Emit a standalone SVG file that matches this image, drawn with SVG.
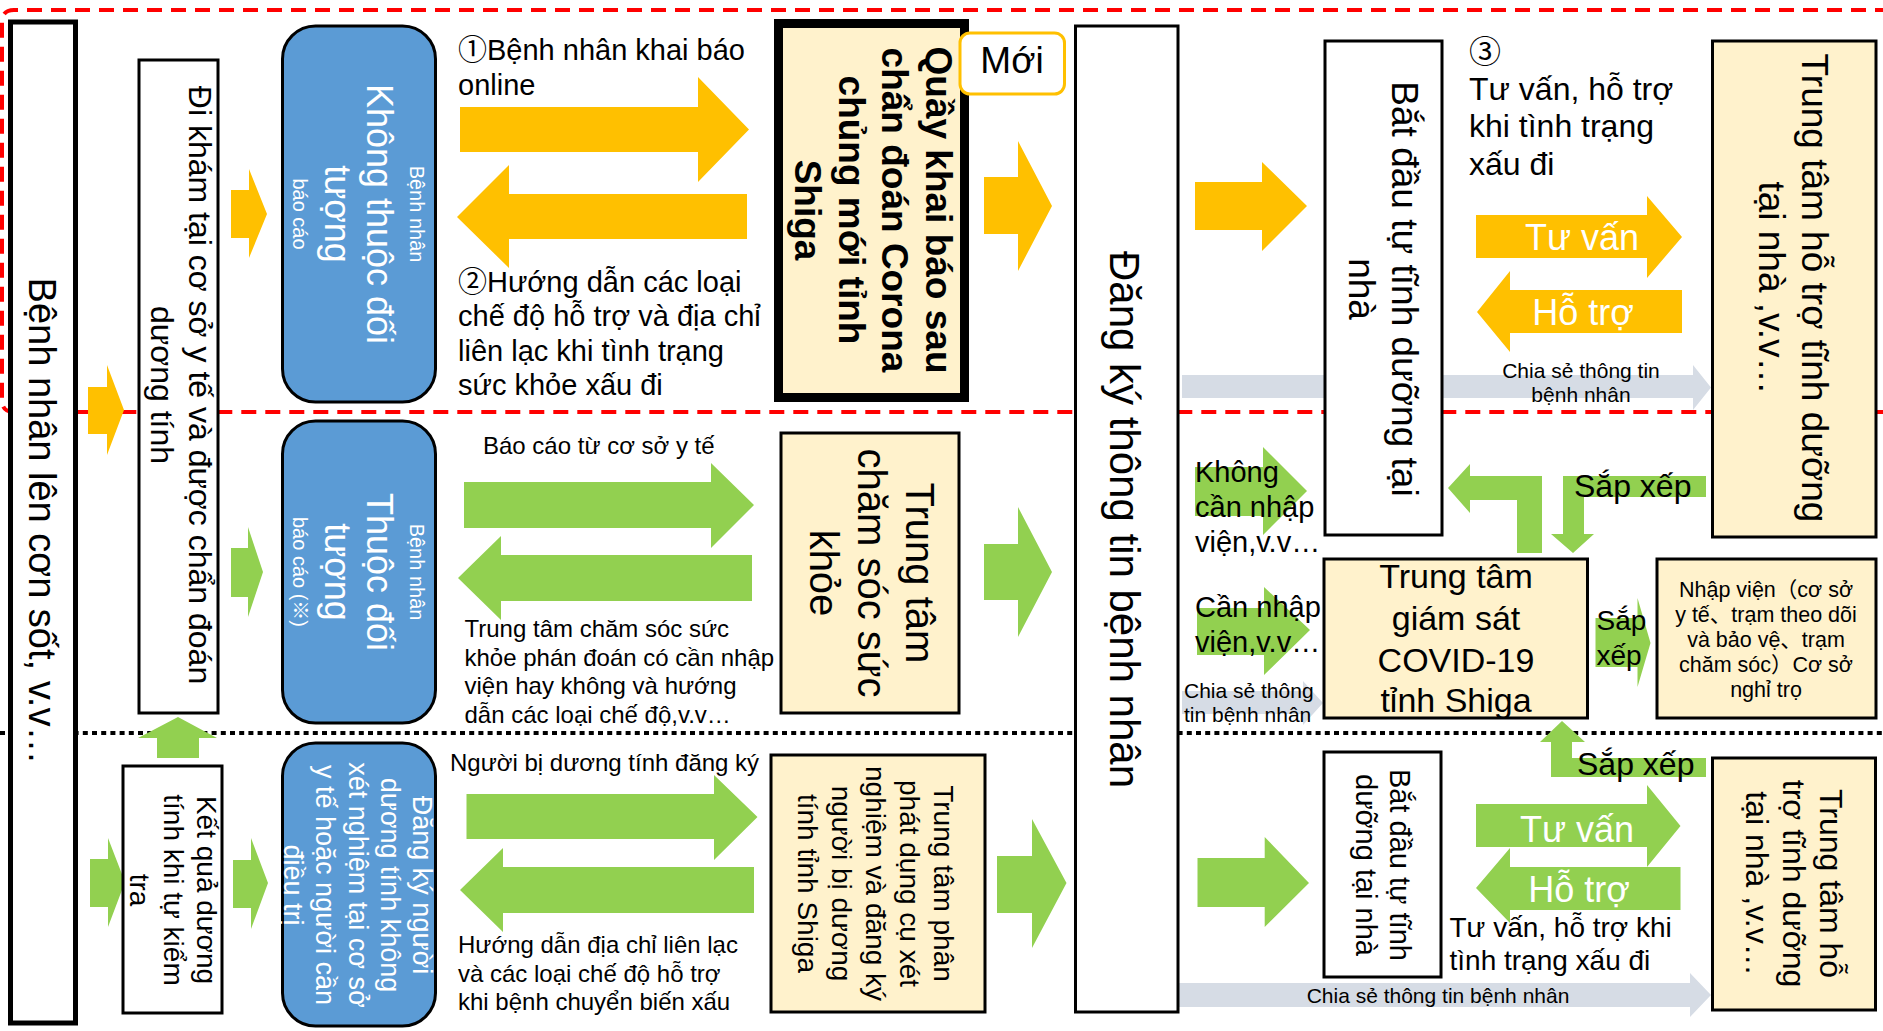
<svg xmlns="http://www.w3.org/2000/svg" width="1883" height="1031" viewBox="0 0 1883 1031">
<defs><style>
text{font-family:"Liberation Sans","Noto Sans CJK JP",sans-serif;fill:#000}
.bx{fill:#fff;stroke:#000;stroke-width:3}
.yb{fill:#FFF2CC;stroke:#000;stroke-width:3}
.bl{fill:#5B9BD5;stroke:#000;stroke-width:3}
.ya{fill:#FFC000}
.ga{fill:#92D050}
.gr{fill:#D6DCE5}
text.w{fill:#fff}
.c{text-anchor:middle}
.b{font-weight:bold}
</style></defs>
<rect width="1883" height="1031" fill="#fff"/>
<g id="dividers">
<path d="M1890,10 H14 Q2,10 2,22 V400 Q2,412 14,412 H1890" fill="none" stroke="#f00" stroke-width="4" stroke-dasharray="15 9"/>
<path d="M0,733 H1883" stroke="#000" stroke-width="4" stroke-dasharray="5 4.2"/>
</g>
<g id="connectors">
<polygon class="ya" points="231,190 249,190 249,169 267,214 249,258 249,238 231,238"/>
<polygon class="ya" points="88,387 107,387 107,365 124,410 107,455 107,434 88,434"/>
<polygon class="ya" points="460,107 698,107 698,77 749,129.5 698,182 698,152 460,152"/>
<polygon class="ya" points="457,217 509,165 509,194 747,194 747,239 509,239 509,268"/>
<polygon class="ya" points="984,177 1018,177 1018,141 1052,206 1018,271 1018,234 984,234"/>
<polygon class="ya" points="1195,182 1262,182 1262,162 1307,206 1262,251 1262,230 1195,230"/>
<polygon class="ya" points="1476,215 1647,215 1647,196 1682,237 1647,278 1647,258 1476,258"/>
<polygon class="ya" points="1477,312 1510,271 1510,290 1682,290 1682,333 1510,333 1510,352"/>
<polygon class="gr" points="1182,375 1693,375 1693,365 1711,387.5 1693,410 1693,398 1182,398"/>
<polygon class="gr" points="1182,691 1303,691 1303,681 1323,703 1303,725 1303,714 1182,714"/>
<polygon class="gr" points="1178,983 1690,983 1690,973 1711,995 1690,1017 1690,1007 1178,1007"/>
<polygon class="ga" points="231,548 248,548 248,527 263,572 248,617 248,597 231,597"/>
<polygon class="ga" points="178,717 217,738 199,738 199,758 157,758 157,738 138,738"/>
<polygon class="ga" points="90,859 108,859 108,838 125,882 108,927 108,907 90,907"/>
<polygon class="ga" points="233,860 251,860 251,838 268,883 251,929 251,908 233,908"/>
<polygon class="ga" points="464,482 711,482 711,463 754,505 711,548 711,528 464,528"/>
<polygon class="ga" points="458,578 501,536 501,555 752,555 752,601 501,601 501,620"/>
<polygon class="ga" points="984,544 1018,544 1018,507 1052,572 1018,637 1018,600 984,600"/>
<polygon class="ga" points="466.5,794 714,794 714,775 757.5,817 714,860 714,839 466.5,839"/>
<polygon class="ga" points="460,890 503,848 503,867 754,867 754,913 503,913 503,932"/>
<polygon class="ga" points="997,856 1032,856 1032,819 1066.5,883 1032,948 1032,913 997,913"/>
<polygon class="ga" points="1195,467 1263,467 1263,447 1307,491 1263,535 1263,516 1195,516"/>
<polygon class="ga" points="1197,608 1264,608 1264,587 1310,630 1264,675 1264,655 1197,655"/>
<polygon class="ga" points="1542,553 1542,476 1470,476 1470,464 1448,488 1470,513 1470,500 1517,500 1517,553"/>
<polygon class="ga" points="1706,476 1563,476 1563,534 1551,534 1573,553 1594,534 1584,534 1584,497 1706,497"/>
<polygon class="ga" points="1595.5,618 1637.5,618 1637.5,598 1650.5,643 1637.5,687 1637.5,667 1595.5,667"/>
<polygon class="ga" points="1706,758 1572,758 1572,742 1585,742 1562,721 1540,742 1551,742 1551,777 1706,777"/>
<polygon class="ga" points="1197.5,858 1264.7,858 1264.7,837 1309,883 1264.7,927 1264.7,907 1197.5,907"/>
<polygon class="ga" points="1476,804 1647,804 1647,785 1680.5,826 1647,867 1647,847 1476,847"/>
<polygon class="ga" points="1476,888 1510,848 1510,867 1680.5,867 1680.5,910 1510,910 1510,923"/>
<g font-size="29">
<text x="458" y="60">①Bệnh nhân khai báo</text>
<text x="458" y="95">online</text>
<text x="458" y="292">②Hướng dẫn các loại</text>
<text x="458" y="326">chế độ hỗ trợ và địa chỉ</text>
<text x="458" y="361">liên lạc khi tình trạng</text>
<text x="458" y="395">sức khỏe xấu đi</text>
</g>
<g font-size="32">
<text x="1469" y="63">③</text>
<text x="1469" y="100">Tư vấn, hỗ trợ</text>
<text x="1469" y="137">khi tình trạng</text>
<text x="1469" y="175">xấu đi</text>
</g>
<g font-size="36" class="c">
<text class="w" x="1582" y="250">Tư vấn</text>
<text class="w" x="1583" y="325">Hỗ trợ</text>
<text class="w" x="1577" y="842">Tư vấn</text>
<text class="w" x="1579" y="902">Hỗ trợ</text>
</g>
<g font-size="21" class="c">
<text x="1581" y="378">Chia sẻ thông tin</text>
<text x="1581" y="402">bệnh nhân</text>
<text x="1438" y="1003">Chia sẻ thông tin bệnh nhân</text>
</g>
<g font-size="21">
<text x="1184" y="698">Chia sẻ thông</text>
<text x="1184" y="722">tin bệnh nhân</text>
</g>
<g font-size="24">
<text x="483" y="454">Báo cáo từ cơ sở y tế</text>
<text x="464.5" y="637">Trung tâm chăm sóc sức</text>
<text x="464.5" y="666">khỏe phán đoán có cần nhập</text>
<text x="464.5" y="694">viện hay không và hướng</text>
<text x="464.5" y="723">dẫn các loại chế độ,v.v…</text>
<text x="450" y="771">Người bị dương tính đăng ký</text>
<text x="458" y="953">Hướng dẫn địa chỉ liên lạc</text>
<text x="458" y="982">và các loại chế độ hỗ trợ</text>
<text x="458" y="1010">khi bệnh chuyển biến xấu</text>
</g>
<g font-size="29">
<text x="1195" y="482">Không</text>
<text x="1195" y="517">cần nhập</text>
<text x="1195" y="552">viện,v.v…</text>
<text x="1195" y="617">Cần nhập</text>
<text x="1195" y="652">viện,v.v…</text>
</g>
<g font-size="32">
<text x="1574" y="497">Sắp xếp</text>
<text x="1577" y="775">Sắp xếp</text>
</g>
<g font-size="28">
<text x="1596.5" y="630">Sắp</text>
<text x="1596.5" y="665">xếp</text>
<text x="1449.5" y="937">Tư vấn, hỗ trợ khi</text>
<text x="1449.5" y="970">tình trạng xấu đi</text>
</g>
</g>
<g id="n-fever">
<rect x="10.5" y="22" width="65" height="1001" fill="#fff" stroke="#000" stroke-width="5"/>
<g transform="translate(43,521) rotate(90)"><text class="c" font-size="38" y="14">Bệnh nhân lên cơn sốt, v.v…</text></g>
</g>
<g id="n-clinic">
<rect class="bx" x="139" y="60" width="79" height="653"/>
<g transform="translate(178,385) rotate(90)" font-size="32"><text class="c" y="-11">Đi khám tại cơ sở y tế và được chẩn đoán</text><text class="c" y="27">dương tính</text></g>
</g>
<g id="n-selftest">
<rect class="bx" x="123" y="766" width="99" height="247"/>
<g transform="translate(172.5,890) rotate(90)" font-size="28"><text class="c" y="-24.5">Kết quả dương</text><text class="c" y="9">tính khi tự kiểm</text><text class="c" y="42.5">tra</text></g>
</g>
<g id="n-notreport">
<rect class="bl" x="282.5" y="26" width="153" height="376" rx="33"/>
<g transform="translate(359,214) rotate(90)"><text class="c w" font-size="20" y="-51">Bệnh nhân</text><text class="c w" font-size="36" y="-8">Không thuộc đối</text><text class="c w" font-size="36" y="34">tượng</text><text class="c w" font-size="20" y="66">báo cáo</text></g>
</g>
<g id="n-report">
<rect class="bl" x="282.5" y="421" width="153" height="302" rx="33"/>
<g transform="translate(359,572) rotate(90)"><text class="c w" font-size="20" y="-51">Bệnh nhân</text><text class="c w" font-size="36" y="-8">Thuộc đối</text><text class="c w" font-size="36" y="34">tượng</text><text class="c w" font-size="20" y="66">báo cáo (※)</text></g>
</g>
<g id="n-register">
<rect class="bl" x="282.5" y="743" width="153" height="283" rx="33"/>
<g transform="translate(359,885) rotate(90)" font-size="27"><text class="c w" y="-54">Đăng ký người</text><text class="c w" y="-22">dương tính không</text><text class="c w" y="10.5">xét nghiệm tại cơ sở</text><text class="c w" y="43">y tế hoặc người cần</text><text class="c w" y="75">điều trị</text></g>
</g>
<g id="n-desk">
<rect x="778.5" y="23.5" width="186" height="374" fill="#FFF2CC" stroke="#000" stroke-width="9"/>
<g transform="translate(871.5,210) rotate(90)" font-size="37" class="b"><text class="c" y="-54">Quầy khai báo sau</text><text class="c" y="-10.5">chẩn đoán Corona</text><text class="c" y="33">chủng mới tỉnh</text><text class="c" y="76.5">Shiga</text></g>
</g>
<g id="n-new">
<rect x="960" y="33" width="104.5" height="61" rx="10" fill="#fff" stroke="#FFC000" stroke-width="3"/>
<text class="c" x="1012" y="73" font-size="37">Mới</text>
</g>
<g id="n-health">
<rect class="yb" x="781" y="433" width="178" height="280"/>
<g transform="translate(870,573) rotate(90)" font-size="40"><text class="c" y="-36">Trung tâm</text><text class="c" y="12">chăm sóc sức</text><text class="c" y="60">khỏe</text></g>
</g>
<g id="n-kit">
<rect class="yb" x="771" y="755" width="214" height="257"/>
<g transform="translate(878,883.5) rotate(90)" font-size="28"><text class="c" y="-56">Trung tâm phân</text><text class="c" y="-22">phát dụng cụ xét</text><text class="c" y="12">nghiệm và đăng ký</text><text class="c" y="46">người bị dương</text><text class="c" y="80">tính tỉnh Shiga</text></g>
</g>
<g id="n-info">
<rect class="bx" x="1075.5" y="26" width="102.5" height="986"/>
<g transform="translate(1126.5,519.5) rotate(90)"><text class="c" font-size="42" y="16.5">Đăng ký thông tin bệnh nhân</text></g>
</g>
<g id="n-home1">
<rect class="bx" x="1325" y="41" width="117" height="494"/>
<g transform="translate(1383.5,289) rotate(90)" font-size="37"><text class="c" y="-8">Bắt đầu tự tĩnh dưỡng tại</text><text class="c" y="35">nhà</text></g>
</g>
<g id="n-support1">
<rect class="yb" x="1712.5" y="41" width="163.5" height="496"/>
<g transform="translate(1794,288) rotate(90)" font-size="37"><text class="c" y="-8">Trung tâm hỗ trợ tĩnh dưỡng</text><text class="c" y="35">tại nhà ,v.v…</text></g>
</g>
<g id="n-covid">
<rect class="yb" x="1324" y="559" width="263.5" height="159"/>
<g font-size="34" class="c"><text x="1456" y="588">Trung tâm</text><text x="1456" y="630">giám sát</text><text x="1456" y="672">COVID-19</text><text x="1456" y="712">tỉnh Shiga</text></g>
</g>
<g id="n-hospital">
<rect class="yb" x="1657" y="559" width="219" height="159"/>
<g font-size="21.5" class="c"><text x="1766" y="597">Nhập viện（cơ sở</text><text x="1766" y="622">y tế、trạm theo dõi</text><text x="1766" y="647">và bảo vệ、trạm</text><text x="1766" y="672">chăm sóc）Cơ sở</text><text x="1766" y="697">nghỉ trọ</text></g>
</g>
<g id="n-home2">
<rect class="bx" x="1324" y="752" width="117" height="225"/>
<g transform="translate(1382,865) rotate(90)" font-size="29"><text class="c" y="-8">Bắt đầu tự tĩnh</text><text class="c" y="26">dưỡng tại nhà</text></g>
</g>
<g id="n-support2">
<rect class="yb" x="1712.5" y="758" width="163" height="252"/>
<g transform="translate(1794,883.5) rotate(90)" font-size="32"><text class="c" y="-26">Trung tâm hỗ</text><text class="c" y="11">trợ tĩnh dưỡng</text><text class="c" y="48">tại nhà ,v.v…</text></g>
</g>
</svg>
